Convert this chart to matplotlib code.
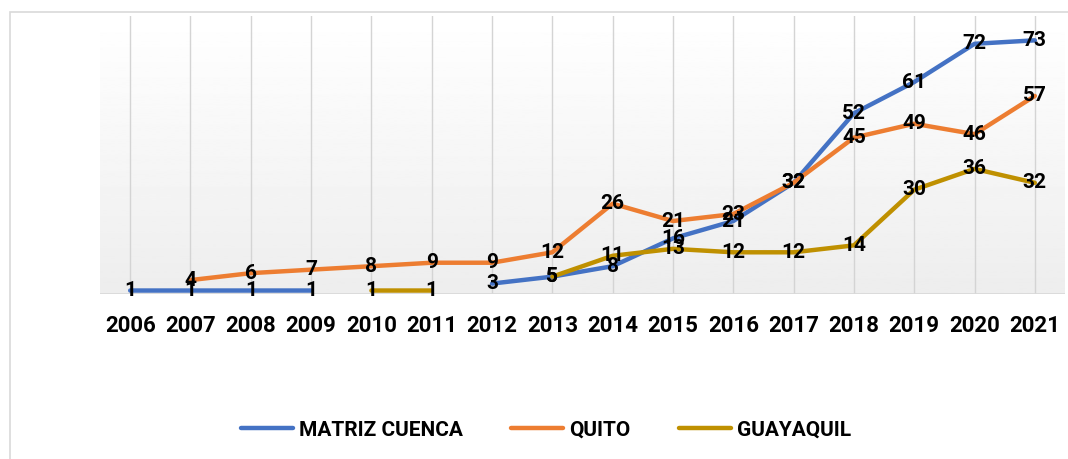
import numpy as np
import matplotlib
matplotlib.use("Agg")
import matplotlib.pyplot as plt
from matplotlib.patches import Rectangle

years = [str(y) for y in range(2006, 2022)]
cuenca = [1, 1, 1, 1, None, None, 3, 5, 8, 16, 21, 32, 52, 61, 72, 73]
quito = [None, 4, 6, 7, 8, 9, 9, 12, 26, 21, 23, 32, 45, 49, 46, 57]
guayaquil = [None, None, None, None, 1, 1, None, 5, 11, 13, 12, 12, 14, 30, 36, 32]

series = [
    ("MATRIZ CUENCA", cuenca, "#4472C4"),
    ("QUITO", quito, "#ED7D31"),
    ("GUAYAQUIL", guayaquil, "#BF9000"),
]

plt.rcParams["font.family"] = ["Roboto", "DejaVu Sans"]

fig = plt.figure(figsize=(10.68, 4.59), dpi=100)
fig.patches.append(Rectangle((10 / 1068, -0.1), 1.2, (459 - 12) / 459 + 0.1,
                             transform=fig.transFigure, fill=False,
                             edgecolor="#d9d9d9", linewidth=1.2))
ax = fig.add_axes([100 / 1068, 165 / 459, 965 / 1068, 278 / 459])

x = np.arange(len(years))
ax.set_xlim(-0.5, len(years) - 0.5)
ax.set_ylim(0, 80)

# gradient background like the Excel plot area
grad = np.linspace(0.93, 1.0, 256).reshape(-1, 1)
ax.imshow(grad, extent=(-0.5, len(years) - 0.5, 0, 80), origin="lower",
          cmap="gray", vmin=0, vmax=1, aspect="auto", zorder=0)

for xi in x:
    ax.axvline(xi, color="#d4d4d4", linewidth=1, zorder=1)
ax.axhline(0, color="#d9d9d9", linewidth=2, zorder=1)

for name, vals, color in series:
    y = np.array([np.nan if v is None else v for v in vals], dtype=float)
    ax.plot(x, y, color=color, linewidth=3.2, label=name, zorder=3,
            solid_capstyle="round")
    for xi, v in zip(x, vals):
        if v is not None:
            ax.text(xi, v, str(v), ha="center", va="center", fontsize=15,
                    fontweight="bold", color="black", zorder=4)

ax.set_xticks(x)
ax.set_xticklabels(years, fontsize=16, fontweight="bold")
ax.set_yticks([])
ax.tick_params(axis="x", length=0, pad=15)
for s in ax.spines.values():
    s.set_visible(False)

leg = fig.legend(loc="center", bbox_to_anchor=(546 / 1068, 1 - 430 / 459),
                 ncol=3, frameon=False, handlelength=2.5, columnspacing=2.3,
                 handletextpad=0.3, prop={"size": 15, "weight": "bold"})

fig.savefig("out.png", dpi=100)
